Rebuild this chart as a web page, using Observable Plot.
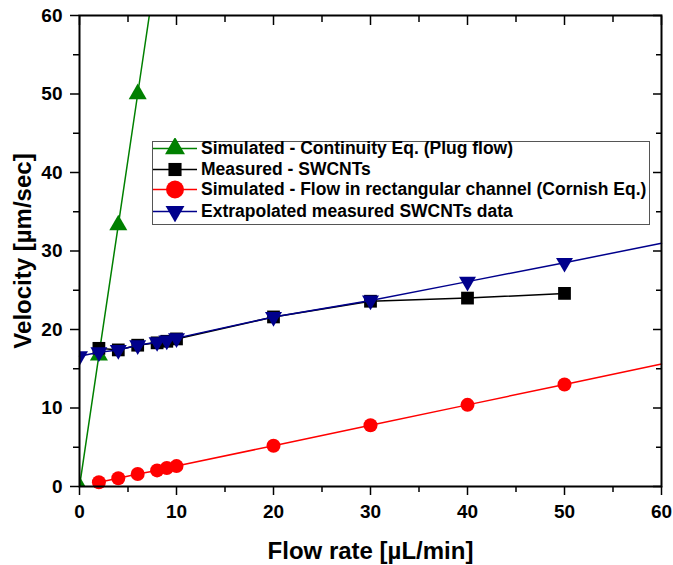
<!DOCTYPE html>
<html><head><meta charset="utf-8">
<script src="https://cdn.jsdelivr.net/npm/d3@7"></script>
<script src="https://cdn.jsdelivr.net/npm/@observablehq/plot@0.6"></script>
<style>
body{margin:0;background:#fff;}
#wrap{position:relative;width:673px;height:565px;font-family:"Liberation Sans",Arial,sans-serif;}
#legend{position:absolute;left:152px;top:141px;width:498px;height:84px;border:1px solid #555;background:#fff;box-sizing:border-box;}
.row{position:absolute;left:0;height:21px;display:flex;align-items:center;white-space:nowrap;font-weight:bold;font-size:17.5px;color:#000;}
.row svg{flex:none;}
.row span{margin-left:2px;}
</style></head><body><div id="wrap"></div>
<script>
// ---- data ----
const plugX = [0, 2, 4, 6, 8];
const plugV = [0, 16.7, 33.3, 50.0, 66.7];

const measX = [2, 4, 6, 8, 9, 10, 20, 30, 40, 50];
const measV = [17.6, 17.4, 18.0, 18.3, 18.5, 18.8, 21.6, 23.6, 24.0, 24.6];

const cornishX = [2, 4, 6, 8, 9, 10, 20, 30, 40, 50];
const cornishV = [0.55, 1.05, 1.6, 2.05, 2.35, 2.6, 5.2, 7.8, 10.4, 13.0];
const cornishLineEnd = [60, 15.6];

const extrapX = [0, 2, 4, 6, 8, 9, 10, 20, 30, 40, 50];
const extrapV = [16.6, 17.1, 17.4, 18.0, 18.4, 18.6, 18.9, 21.6, 23.7, 26.1, 28.5];
const extrapLineEnd = [60, 31.0];

const majorTicks = [0, 10, 20, 30, 40, 50, 60];
const minorTicks = [5, 15, 25, 35, 45, 55];

const seriesNames = [
  "Simulated - Continuity Eq. (Plug flow)",
  "Measured - SWCNTs",
  "Simulated - Flow in rectangular channel (Cornish Eq.)",
  "Extrapolated measured SWCNTs data"
];

const GREEN = "#008000", BLACK = "#000000", RED = "#ff0000", BLUE = "#00008c";

const toRows = (xs, vs) => xs.map((x, i) => ({x, v: vs[i]}));
const plug = toRows(plugX, plugV);
const meas = toRows(measX, measV);
const cornish = toRows(cornishX, cornishV);
const extrap = toRows(extrapX, extrapV);
const cornishLine = cornish.concat([{x: cornishLineEnd[0], v: cornishLineEnd[1]}]);
const extrapLine = extrap.concat([{x: extrapLineEnd[0], v: extrapLineEnd[1]}]);

const tickFont = {fontSize: 19, fontWeight: "bold"};

const chart = Plot.plot({
  width: 673, height: 565,
  marginLeft: 79, marginRight: 12, marginTop: 15, marginBottom: 79,
  style: {fontFamily: "'Liberation Sans', Arial, sans-serif", color: "#000", background: "#fff", overflow: "visible"},
  x: {domain: [0, 60]},
  y: {domain: [0, 60]},
  marks: [
    // bottom axis
    Plot.axisX(majorTicks, {anchor: "bottom", tickSize: 9, tickPadding: 9, ...tickFont, label: null, strokeWidth: 1.5}),
    Plot.axisX(minorTicks, {anchor: "bottom", tickSize: 6, text: null, label: null, strokeWidth: 1.5}),
    Plot.axisX([], {anchor: "bottom", label: "Flow rate [µL/min]", labelAnchor: "center", labelArrow: "none", labelOffset: 72, fontSize: 24, fontWeight: "bold"}),
    // top axis (inward ticks)
    Plot.axisX(majorTicks, {anchor: "top", tickSize: -9, text: null, label: null, strokeWidth: 1.5}),
    Plot.axisX(minorTicks, {anchor: "top", tickSize: -6, text: null, label: null, strokeWidth: 1.5}),
    // left axis
    Plot.axisY(majorTicks, {anchor: "left", tickSize: 9, tickPadding: 8, ...tickFont, label: null, strokeWidth: 1.5}),
    Plot.axisY(minorTicks, {anchor: "left", tickSize: 6, text: null, label: null, strokeWidth: 1.5}),
    Plot.axisY([], {anchor: "left", label: "Velocity [µm/sec]", labelAnchor: "center", labelArrow: "none", labelOffset: 66, fontSize: 24, fontWeight: "bold"}),
    // right axis (inward ticks)
    Plot.axisY(majorTicks, {anchor: "right", tickSize: -9, text: null, label: null, strokeWidth: 1.5}),
    Plot.axisY(minorTicks, {anchor: "right", tickSize: -6, text: null, label: null, strokeWidth: 1.5}),

    // series
    Plot.line(plug, {x: "x", y: "v", stroke: GREEN, strokeWidth: 1.5, clip: true}),
    Plot.dot(plug, {x: "x", y: "v", symbol: "triangle", r: 6.7, fill: GREEN, clip: true}),

    Plot.line(meas, {x: "x", y: "v", stroke: BLACK, strokeWidth: 1.5}),
    Plot.dot(meas, {x: "x", y: "v", symbol: "square", r: 7.2, fill: BLACK}),

    Plot.line(cornishLine, {x: "x", y: "v", stroke: RED, strokeWidth: 1.5}),
    Plot.dot(cornish, {x: "x", y: "v", symbol: "circle", r: 7, fill: RED}),

    Plot.line(extrapLine, {x: "x", y: "v", stroke: BLUE, strokeWidth: 1.5}),
    Plot.dot(extrap, {x: "x", y: "v", symbol: "triangle", rotate: 180, r: 6.3, fill: BLUE, clip: true}),

    Plot.frame({stroke: "#000", strokeWidth: 2})
  ]
});

const wrap = document.getElementById("wrap");
wrap.appendChild(chart);

// legend (HTML overlay)
const legend = document.createElement("div");
legend.id = "legend";
const legendStyles = [
  {color: GREEN, type: d3.symbolTriangle, r: 7.4, rot: 0},
  {color: BLACK, type: d3.symbolSquare, r: 7.4, rot: 0},
  {color: RED, type: d3.symbolCircle, r: 9, rot: 0},
  {color: BLUE, type: d3.symbolTriangle, r: 7, rot: 180}
];
const rowTops = [-4, 16.5, 37, 58.5];
seriesNames.forEach((name, i) => {
  const s = legendStyles[i];
  const row = document.createElement("div");
  row.className = "row";
  row.style.top = rowTops[i] + "px";
  const path = d3.symbol().type(s.type).size(Math.PI * s.r * s.r)();
  row.innerHTML = `<svg width="46" height="21" viewBox="0 0 46 21"><line x1="0" x2="44" y1="10.5" y2="10.5" stroke="${s.color}" stroke-width="1.5"/><path d="${path}" fill="${s.color}" transform="translate(22,10.5) rotate(${s.rot})"/></svg><span>${name}</span>`;
  legend.appendChild(row);
});
wrap.appendChild(legend);
</script>
</body></html>
